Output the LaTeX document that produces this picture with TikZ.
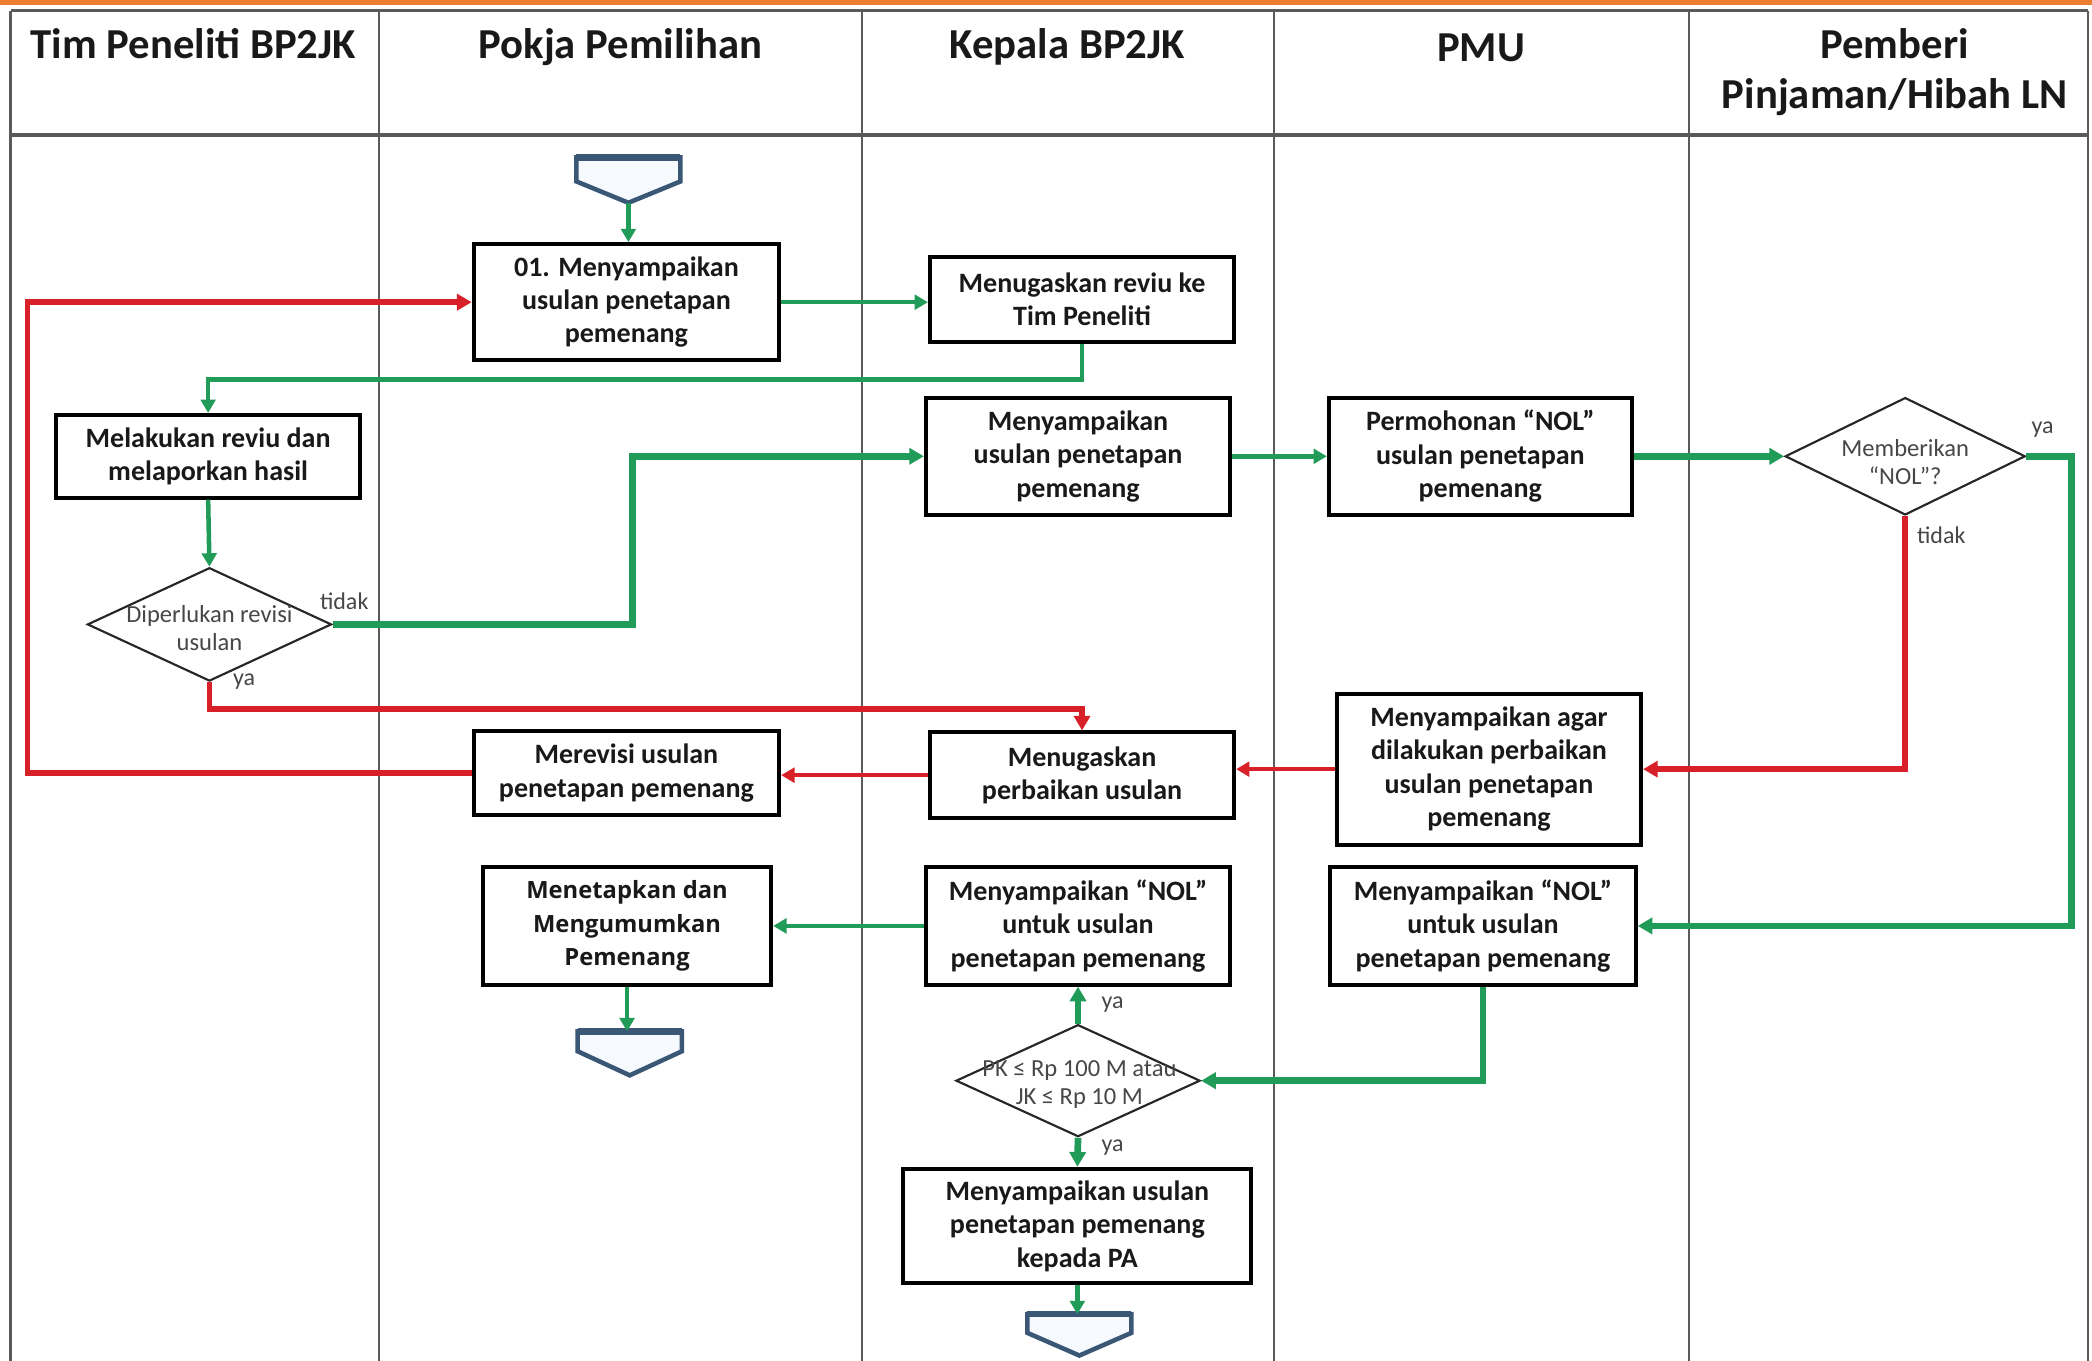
\documentclass[tikz,border=0pt]{standalone}
\usepackage{fontspec}
\setmainfont{Carlito}
\newfontfamily\osans{Open Sans}
\usetikzlibrary{arrows.meta,shapes.geometric,calc}
\definecolor{fgreen}{RGB}{32,155,88}
\definecolor{fred}{RGB}{215,32,40}
\definecolor{forange}{RGB}{237,125,49}
\definecolor{gridgray}{RGB}{90,90,90}
\definecolor{pentblue}{RGB}{58,88,118}
\definecolor{pentfill}{RGB}{246,250,254}
\begin{document}
\begin{tikzpicture}[x=0.5pt,y=-0.5pt,
  box/.style={draw=black, line width=1.5pt, fill=white, align=center, inner sep=0pt, font=\bfseries\fontsize{10.5}{12.5}\selectfont, text=black!90},
  dia/.style={draw=black!85, line width=0.8pt, shape=diamond, fill=white, inner sep=0pt},
  dtext/.style={font=\fontsize{9.2}{10.5}\selectfont, text=black!72, align=center, inner sep=0pt},
  lbl/.style={font=\fontsize{9}{10}\selectfont, text=black!72, inner sep=0pt},
  head/.style={font=\bfseries\fontsize{16}{18.5}\selectfont, text=black!90, inner sep=0pt},
  gthin/.style={draw=fgreen, line width=1.7pt, -{Triangle[length=5pt,width=5.5pt]}},
  gthick/.style={draw=fgreen, line width=2.5pt, -{Triangle[length=5.5pt,width=6pt]}},
  rthick/.style={draw=fred, line width=2.1pt, -{Triangle[length=5.5pt,width=6pt]}},
  rthin/.style={draw=fred, line width=1.7pt, -{Triangle[length=5pt,width=5.5pt]}},
  pent/.style={draw=pentblue, line width=1.7pt, fill=pentfill, line join=miter},
  gridline/.style={draw=gridgray, line width=0.7pt},
]
\useasboundingbox (0,0) rectangle (1568,1020);
\fill[white] (0,0) rectangle (1568,1020);
\fill[forange] (0,0) rectangle (1568,4);
% table
\draw[gridline, line width=1.2pt] (8,8) -- (1565,8);
\draw[gridline, line width=1.5pt] (8,101) -- (1565,101);
\draw[gridline, line width=1pt] (8,8) -- (8,1020);
\draw[gridline, line width=1pt] (1565,8) -- (1565,1020);
\foreach \x in {284,646,955,1266} {\draw[gridline] (\x,8) -- (\x,1020);}
% headers
\node[head, anchor=base] (h1) at (145,44) {Tim Peneliti BP2JK};
\node[head, anchor=base] (h2) at (465,44) {Pokja Pemilihan};
\node[head, anchor=base] (h3) at (800,44) {Kepala BP2JK};
\node[head, anchor=base] (h4) at (1110,46) {PMU};
\node[head, anchor=base] (h5a) at (1420,44) {Pemberi};
\node[head, anchor=base] (h5b) at (1420,81) {Pinjaman/Hibah LN};
% boxes
\node[box, minimum width=114.5pt, minimum height=43.5pt] (b1) at (469.5,226.5) {01. Menyampaikan\\usulan penetapan\\pemenang};
\node[box, minimum width=114pt, minimum height=31.5pt] (b2) at (811,224.5) {Menugaskan reviu ke\\Tim Peneliti};
\node[box, minimum width=114pt, minimum height=31pt] (b3) at (156,342) {Melakukan reviu dan\\melaporkan hasil};
\node[box, minimum width=114pt, minimum height=44pt] (b4) at (808,342) {Menyampaikan\\usulan penetapan\\pemenang};
\node[box, minimum width=113.5pt, minimum height=44pt] (b5) at (1109.5,342) {Permohonan “NOL”\\usulan penetapan\\pemenang};
\node[box, minimum width=114.5pt, minimum height=31.5pt] (b8) at (469.5,579.5) {Merevisi usulan\\penetapan pemenang};
\node[box, minimum width=114pt, minimum height=32pt] (b9) at (811,581) {Menugaskan\\perbaikan usulan};
\node[box, minimum width=114pt, minimum height=56.5pt] (b10) at (1116,576.5) {Menyampaikan agar\\dilakukan perbaikan\\usulan penetapan\\pemenang};
\node[box, minimum width=108pt, minimum height=44pt, font=\osans\bfseries\fontsize{8.9}{12.5}\selectfont] (b11) at (470,694) {Menetapkan dan\\Mengumumkan\\Pemenang};
\node[box, minimum width=114pt, minimum height=44pt] (b12) at (808,694) {Menyampaikan “NOL”\\untuk usulan\\penetapan pemenang};
\node[box, minimum width=114.5pt, minimum height=44pt] (b13) at (1111.5,694) {Menyampaikan “NOL”\\untuk usulan\\penetapan pemenang};
\node[box, minimum width=130.5pt, minimum height=43pt] (b15) at (807.5,919) {Menyampaikan usulan\\penetapan pemenang\\kepada PA};
% diamonds
\node[dia, minimum width=90pt, minimum height=44pt] (d6) at (1428,342) {};
\node[dtext] (t6) at (1428,346) {Memberikan\\“NOL”?};
\node[dia, minimum width=91.5pt, minimum height=42.5pt] (d7) at (157,468) {};
\node[dtext] (t7) at (157,471) {Diperlukan revisi\\usulan};
\node[dia, minimum width=91.5pt, minimum height=42pt] (d14) at (808,810) {};
\node[dtext] (t14) at (809,813) {PK ≤ Rp 100 M atau\\JK ≤ Rp 10 M};
% labels
\node[lbl] (l7a) at (258,451) {tidak};
\node[lbl] (l7b) at (183,511) {ya};
\node[lbl] (l6a) at (1531,322) {ya};
\node[lbl] (l6b) at (1455,401) {tidak};
\node[lbl] (l14a) at (834,753) {ya};
\node[lbl] (l14b) at (834,860) {ya};
% off-page connectors
\draw[pent] (432,136) -- (432,118) -- (510,118) -- (510,136) -- (471,152) -- cycle;
\draw[pentblue, line width=2.8pt] (432,118) -- (510,118);
\coordinate (p1tip) at (471,152);
\draw[pent] (433,788) -- (433,773) -- (511,773) -- (511,788) -- (472,806) -- cycle;
\draw[pentblue, line width=2.4pt] (433,773) -- (511,773);
\coordinate (p2top) at (472,773);
\draw[pent] (770,999) -- (770,985) -- (848,985) -- (848,999) -- (809,1016) -- cycle;
\draw[pentblue, line width=2.4pt] (770,985) -- (848,985);
\coordinate (p3top) at (809,985);
% green connectors
\draw[gthin] (p1tip) -- (p1tip |- b1.north);
\draw[gthin] (b1.east) -- (b1.east -| b2.west);
\draw[gthin] (b2.south) -- ++(0,27) -| (b3.north);
\draw[gthin] (b3.south) -- (d7.north);
\draw[gthick] (d7.east) -- ++(225,0) |- (b4.west);
\draw[gthin] (b4.east) -- (b5.west);
\draw[gthick] (b5.east) -- (d6.west);
\draw[gthick] (d6.east) -- ++(34,0) |- (b13.east);
\draw[gthick] (b13.south) |- (d14.east);
\draw[gthick] (d14.north) -- (b12.south);
\draw[gthick] (d14.south) -- (b15.north);
\draw[gthin] (b15.south) -- (b15.south |- p3top);
\draw[gthin] (b12.west) -- (b11.east);
\draw[gthin] (b11.south) -- (b11.south |- p2top);
% red connectors
\draw[rthick] (d6.south) |- (b10.east);
\draw[rthin] (b10.west) -- (b10.west -| b9.east);
\draw[rthin] (b9.west) -- (b9.west -| b8.east);
\draw[rthick] (b8.west) -- ++(-333,0) |- (b1.west);
\draw[rthick] (d7.south) -- ++(0,20) -| (b9.north);
\end{tikzpicture}
\end{document}
